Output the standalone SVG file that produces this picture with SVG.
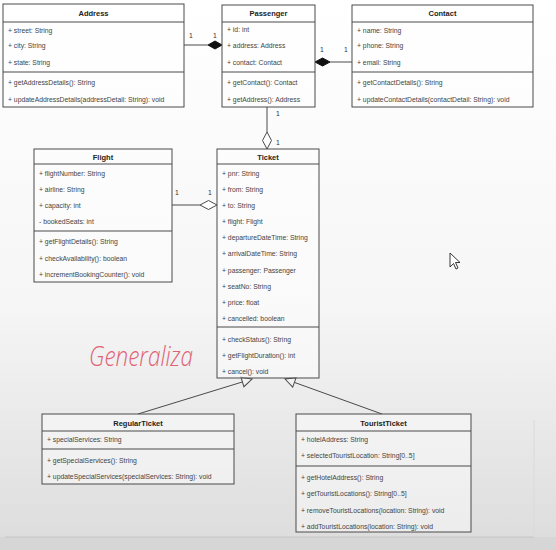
<svg xmlns="http://www.w3.org/2000/svg" width="556" height="550" viewBox="0 0 556 550">
<style>
.box{fill:#ffffff;fill-opacity:0.45;stroke:#4a4a4a;stroke-width:1}
.sep{stroke:#4a4a4a;stroke-width:1}
.hd{font-family:"Liberation Sans",Arial,sans-serif;font-size:7.5px;font-weight:bold;fill:#222;text-anchor:middle}
.tx{font-family:"Liberation Sans",Arial,sans-serif;font-size:6.8px;fill:#444}
.lb{font-family:"Liberation Sans",Arial,sans-serif;font-size:6.8px;fill:#333}
.ln{stroke:#4a4a4a;stroke-width:1;fill:none}
</style>
<defs>
<linearGradient id="bg" x1="0" y1="0" x2="0" y2="1">
<stop offset="0" stop-color="#ffffff"/>
<stop offset="0.55" stop-color="#f6f6f6"/>
<stop offset="1" stop-color="#dcdcdc"/>
</linearGradient>
<marker id="gen" markerUnits="userSpaceOnUse" markerWidth="14" markerHeight="14" refX="11" refY="6" orient="auto">
<path d="M1,1 L11,6 L1,11 Z" fill="#f2f2f2" stroke="#4a4a4a" stroke-width="1"/>
</marker>
</defs>
<rect x="0" y="0" width="556" height="550" fill="url(#bg)"/>
<rect x="0" y="537" width="556" height="13" fill="#d6d6d6"/>
<line x1="5" y1="537" x2="534" y2="537" stroke="#c4c4c4" stroke-width="1"/>
<line x1="534" y1="420" x2="534" y2="537" stroke="#dadada" stroke-width="1"/>

<g id="connectors">
<line class="ln" x1="184" y1="45" x2="208" y2="45"/>
<path d="M208,45 L215,41 L222,45 L215,49 Z" fill="#111" stroke="#111"/>
<line class="ln" x1="352" y1="62" x2="330" y2="62"/>
<path d="M315,62 L322.5,58 L330,62 L322.5,66 Z" fill="#111" stroke="#111"/>
<line class="ln" x1="267" y1="107" x2="267" y2="132"/>
<path d="M267,132 L271.5,140.5 L267,149 L262.5,140.5 Z" fill="#fff" stroke="#4a4a4a"/>
<line class="ln" x1="172" y1="205" x2="200" y2="205"/>
<path d="M200,205 L208.5,200.5 L217,205 L208.5,209.5 Z" fill="#fff" stroke="#4a4a4a"/>
<line class="ln" x1="138" y1="414" x2="252" y2="379" marker-end="url(#gen)"/>
<line class="ln" x1="382" y1="414" x2="285" y2="379" marker-end="url(#gen)"/>
<text class="lb" x="189" y="38">1</text>
<text class="lb" x="213" y="38">1</text>
<text class="lb" x="320" y="51.5">1</text>
<text class="lb" x="344" y="51.5">1</text>
<text class="lb" x="276" y="116">1</text>
<text class="lb" x="276" y="145">1</text>
<text class="lb" x="175" y="195">1</text>
<text class="lb" x="208" y="195">1</text>
</g>

<g id="address">
<rect class="box" x="3" y="4" width="181" height="103"/>
<line class="sep" x1="3" y1="22" x2="184" y2="22"/>
<line class="sep" x1="3" y1="72" x2="184" y2="72"/>
<text class="hd" x="93.5" y="16">Address</text>
<text class="tx" x="8" y="32.5">+ street: String</text>
<text class="tx" x="8" y="48">+ city: String</text>
<text class="tx" x="8" y="64.5">+ state: String</text>
<text class="tx" x="8" y="84.5">+ getAddressDetails(): String</text>
<text class="tx" x="8" y="101.5">+ updateAddressDetails(addressDetail: String): void</text>
</g>

<g id="passenger">
<rect class="box" x="222" y="5" width="93" height="102"/>
<line class="sep" x1="222" y1="22" x2="315" y2="22"/>
<line class="sep" x1="222" y1="72" x2="315" y2="72"/>
<text class="hd" x="268.5" y="16">Passenger</text>
<text class="tx" x="227" y="32">+ id: int</text>
<text class="tx" x="227" y="48">+ address: Address</text>
<text class="tx" x="227" y="64.5">+ contact: Contact</text>
<text class="tx" x="227" y="85">+ getContact(): Contact</text>
<text class="tx" x="227" y="101.5">+ getAddress(): Address</text>
</g>

<g id="contact">
<rect class="box" x="352" y="5" width="181" height="102"/>
<line class="sep" x1="352" y1="22" x2="533" y2="22"/>
<line class="sep" x1="352" y1="72" x2="533" y2="72"/>
<text class="hd" x="442.5" y="16">Contact</text>
<text class="tx" x="357" y="32.5">+ name: String</text>
<text class="tx" x="357" y="48">+ phone: String</text>
<text class="tx" x="357" y="64.5">+ email: String</text>
<text class="tx" x="357" y="84.5">+ getContactDetails(): String</text>
<text class="tx" x="357" y="101.5">+ updateContactDetails(contactDetail: String): void</text>
</g>

<g id="flight">
<rect class="box" x="34" y="149" width="138" height="133"/>
<line class="sep" x1="34" y1="164" x2="172" y2="164"/>
<line class="sep" x1="34" y1="231" x2="172" y2="231"/>
<text class="hd" x="103" y="159.5">Flight</text>
<text class="tx" x="39" y="175.5">+ flightNumber: String</text>
<text class="tx" x="39" y="191.5">+ airline: String</text>
<text class="tx" x="39" y="207.5">+ capacity: int</text>
<text class="tx" x="39" y="223.5">- bookedSeats: int</text>
<text class="tx" x="39" y="244">+ getFlightDetails(): String</text>
<text class="tx" x="39" y="260.5">+ checkAvailability(): boolean</text>
<text class="tx" x="39" y="277">+ incrementBookingCounter(): void</text>
</g>

<g id="ticket">
<rect class="box" x="217" y="149" width="102" height="229"/>
<line class="sep" x1="217" y1="164" x2="319" y2="164"/>
<line class="sep" x1="217" y1="327" x2="319" y2="327"/>
<text class="hd" x="268" y="159.5">Ticket</text>
<text class="tx" x="222" y="175.5">+ pnr: String</text>
<text class="tx" x="222" y="191.5">+ from: String</text>
<text class="tx" x="222" y="207.5">+ to: String</text>
<text class="tx" x="222" y="223.5">+ flight: Flight</text>
<text class="tx" x="222" y="239.5">+ departureDateTime: String</text>
<text class="tx" x="222" y="256">+ arrivalDateTime: String</text>
<text class="tx" x="222" y="272.5">+ passenger: Passenger</text>
<text class="tx" x="222" y="288.5">+ seatNo: String</text>
<text class="tx" x="222" y="304.5">+ price: float</text>
<text class="tx" x="222" y="320.5">+ cancelled: boolean</text>
<text class="tx" x="222" y="341.5">+ checkStatus(): String</text>
<text class="tx" x="222" y="357.5">+ getFlightDuration(): int</text>
<text class="tx" x="222" y="373.5">+ cancel(): void</text>
</g>

<g id="regularticket">
<rect class="box" x="42" y="414" width="192" height="70"/>
<line class="sep" x1="42" y1="431" x2="234" y2="431"/>
<line class="sep" x1="42" y1="449" x2="234" y2="449"/>
<text class="hd" x="138" y="425.5">RegularTicket</text>
<text class="tx" x="47" y="441.5">+ specialServices: String</text>
<text class="tx" x="47" y="462.5">+ getSpecialServices(): String</text>
<text class="tx" x="47" y="479">+ updateSpecialServices(specialServices: String): void</text>
</g>

<g id="touristticket">
<rect class="box" x="296" y="414" width="175" height="118"/>
<line class="sep" x1="296" y1="431" x2="471" y2="431"/>
<line class="sep" x1="296" y1="466" x2="471" y2="466"/>
<text class="hd" x="383.5" y="425.5">TouristTicket</text>
<text class="tx" x="301" y="441.5">+ hotelAddress: String</text>
<text class="tx" x="301" y="458">+ selectedTouristLocation: String[0..5]</text>
<text class="tx" x="301" y="479.5">+ getHotelAddress(): String</text>
<text class="tx" x="301" y="496">+ getTouristLocations(): String[0..5]</text>
<text class="tx" x="301" y="512.5">+ removeTouristLocations(location: String): void</text>
<text class="tx" x="301" y="528.5">+ addTouristLocations(location: String): void</text>
</g>

<g id="annotation">
<text x="89" y="366" font-family="'Open Sans','DejaVu Sans',sans-serif" font-style="italic" font-weight="300" font-size="28" fill="#e06275" textLength="104" lengthAdjust="spacingAndGlyphs">Generaliza</text>
</g>

<g id="cursor">
<path d="M450,253 L450,267 L453.5,263.5 L456,269 L458,268 L455.5,262.5 L460,262.5 Z" fill="#fff" stroke="#222" stroke-width="0.9" stroke-linejoin="round"/>
</g>
</svg>
